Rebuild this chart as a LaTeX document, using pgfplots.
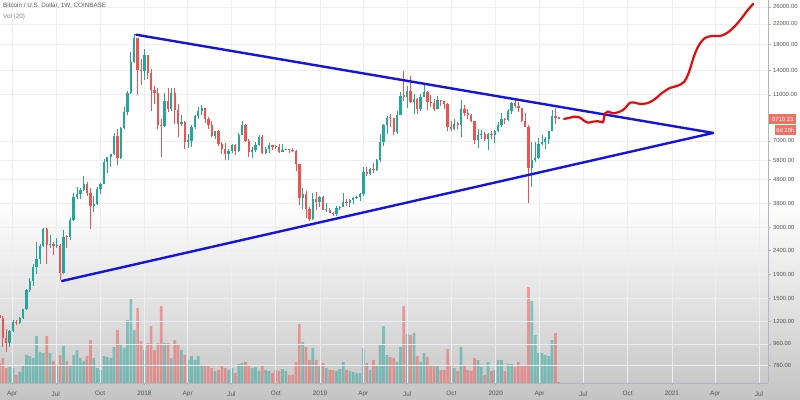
\documentclass[border=0pt]{standalone}
\usepackage{fontspec}
\setmainfont{Liberation Sans}
\usepackage{pgfplots}
\pgfplotsset{compat=1.18}
\usepackage{pgfplotstable}
\definecolor{upc}{RGB}{38,166,154}
\definecolor{dnc}{RGB}{239,83,80}
\definecolor{gridc}{RGB}{236,238,242}
\definecolor{axc}{RGB}{178,181,190}
\definecolor{txtc}{RGB}{85,85,85}
\definecolor{trib}{RGB}{20,20,225}
\definecolor{redline}{RGB}{230,10,10}
\definecolor{boxred}{RGB}{240,112,100}
\definecolor{bgA}{RGB}{196,196,196}
\definecolor{bgB}{RGB}{226,226,226}
\pgfdeclareverticalshading{bgshade}{100bp}{color(0bp)=(bgA); color(25bp)=(bgA); color(37bp)=(bgB); color(50bp)=(white); color(100bp)=(white)}

\pgfplotstableread{
i o h l c v
0 1274 1330 1120 1237 20
1 1237 1260 935 1015 25
2 1015 1110 890 968 15
3 968 1100 930 1090 16
4 1090 1210 1075 1185 15
5 1185 1215 1150 1178 8
6 1178 1245 1165 1238 11
7 1238 1350 1230 1345 18
8 1345 1650 1340 1620 28
9 1620 1830 1600 1770 27
10 1770 2100 1700 2040 25
11 2040 2600 1900 2200 47
12 2200 2550 2100 2500 31
13 2500 2980 2480 2950 30
14 2950 2990 2100 2530 47
15 2530 2780 2450 2560 30
16 2560 2600 2300 2500 22
17 2500 2700 2450 2510 17
18 2510 2540 1800 1925 28
19 1925 2920 1900 2740 37
20 2740 2800 2460 2720 22
21 2720 3300 2650 3220 18
22 3220 4200 3200 4060 28
23 4060 4480 3950 4150 33
24 4150 4400 3970 4350 25
25 4350 4980 4300 4600 22
26 4600 4700 4100 4200 27
27 4200 4400 2970 3700 43
28 3700 4100 3500 3780 25
29 3780 4450 3750 4380 15
30 4380 4650 4150 4600 13
31 4600 5850 4580 5700 27
32 5700 6000 5100 5990 26
33 5990 6180 5450 6140 25
34 6140 7600 6100 7350 36
35 7350 7900 5550 5910 53
36 5910 8000 5850 7970 39
37 7970 9750 7900 9330 35
38 9330 11400 9000 11160 63
39 11160 16800 11100 15210 85
40 15210 19900 15000 19100 53
41 19100 19200 11000 14000 75
42 14000 15600 12100 13880 42
43 13880 17250 12750 16200 33
44 16200 16300 12800 13600 40
45 13600 14100 9400 11500 57
46 11500 12000 10000 11150 33
47 11150 11800 7900 8190 40
48 8190 8700 6000 8100 77
49 8100 11200 8000 10350 40
50 10350 11800 9300 9600 40
51 9600 11700 9350 11200 25
52 11200 11700 8300 9500 43
53 9500 10000 7300 8250 38
54 8250 9000 8100 8450 33
55 8450 8500 6500 6950 28
56 6950 7500 6550 7030 23
57 7030 8200 6600 8000 27
58 8000 9000 7900 8900 23
59 8900 9750 8700 9350 27
60 9350 9990 9050 9650 18
61 9650 9700 8350 8700 17
62 8700 8850 7900 8200 17
63 8200 8500 7250 7350 15
64 7350 7750 7100 7700 12
65 7700 7800 6650 6770 13
66 6770 6900 6150 6450 17
67 6450 6850 5780 6150 15
68 6150 6500 5800 6350 13
69 6350 6800 6250 6750 15
70 6750 6800 6100 6350 10
71 6350 7600 6300 7400 19
72 7400 8500 7400 8200 20
73 8200 8300 6950 7000 21
74 7000 7150 6000 6300 18
75 6300 6600 5900 6400 15
76 6400 6900 6300 6700 16
77 6700 7400 6650 7280 12
78 7280 7400 6150 6250 18
79 6250 6600 6150 6500 13
80 6500 6850 6250 6700 12
81 6700 6750 6400 6620 10
82 6620 6700 6500 6580 13
83 6580 6800 6200 6310 12
84 6310 6800 6300 6420 14
85 6420 6500 6380 6440 12
86 6440 6500 6250 6400 8
87 6400 6550 6300 6350 8
88 6350 6400 5200 5600 21
89 5600 5600 3750 4000 59
90 4000 4400 3600 4150 41
91 4150 4300 3300 3600 36
92 3600 3650 3190 3250 23
93 3250 4200 3230 3950 35
94 3950 4250 3550 3850 23
95 3850 4100 3650 4050 18
96 4050 4100 3550 3550 20
97 3550 3800 3500 3560 15
98 3560 3630 3450 3470 13
99 3470 3500 3370 3420 13
100 3420 3700 3360 3640 12
101 3640 3700 3550 3670 14
102 3670 4200 3650 3850 21
103 3850 3950 3700 3800 13
104 3800 3950 3680 3930 12
105 3930 4060 3780 4000 11
106 4000 4100 3950 4030 10
107 4030 4200 3900 4150 10
108 4150 5400 4100 5150 35
109 5150 5450 4950 5050 20
110 5050 5350 5000 5300 13
111 5300 5650 5100 5250 23
112 5250 5850 5200 5800 17
113 5800 7500 5700 6950 38
114 6950 8300 6650 8200 57
115 8200 8950 7500 8750 28
116 8750 9100 8050 8720 26
117 8720 8800 7450 7650 25
118 7650 9350 7520 8980 21
119 8980 11250 8980 10850 36
120 10850 13880 10350 10800 77
121 10800 12000 9700 11450 49
122 11450 13200 10100 10200 48
123 10200 11100 9100 10550 50
124 10550 10650 9150 9550 27
125 9550 11100 9400 10800 21
126 10800 12300 10800 11350 30
127 11350 11450 9500 10250 26
128 10250 10950 9800 10150 18
129 10150 10600 9350 9600 18
130 9600 10900 9550 10400 18
131 10400 10450 9850 10300 13
132 10300 10350 9600 10000 13
133 10000 10100 7700 8050 34
134 8050 8550 7750 7880 17
135 7880 8650 7800 8300 15
136 8300 8420 7900 8220 12
137 8220 10500 7300 9550 36
138 9550 9950 8900 9200 18
139 9200 9550 8700 9050 13
140 9050 9100 8400 8500 12
141 8500 8500 6800 7050 25
142 7050 7900 6550 7400 23
143 7400 7800 7100 7500 16
144 7500 7650 7000 7100 8
145 7100 7600 6430 7500 21
146 7500 7700 7100 7400 12
147 7400 7800 6850 7750 13
148 7750 8450 7670 8150 23
149 8150 9200 8050 8700 23
150 8700 8750 8250 8600 12
151 8600 9600 8550 9350 19
152 9350 10200 9150 10150 19
153 10150 10500 9700 9900 16
154 9900 10250 9300 9700 21
155 9700 9700 8400 8550 17
156 8550 9200 8000 8050 18
157 8050 8200 3800 5350 96
158 5350 6900 4450 5800 82
159 5800 6900 5700 5900 48
160 5900 7200 5850 6800 30
161 6800 7450 6750 6900 30
162 6900 7300 6500 7130 28
163 7130 7750 6800 7700 27
164 7700 9450 7700 8900 43
165 8900 9700 8250 8750 50
166 8750 8780 8690 8710 1
}\btc

\begin{document}
\begin{tikzpicture}
\shade[shading=bgshade] (0pt,0pt) rectangle (800pt,399pt);
% volume pane
\begin{axis}[at={(0pt,16pt)}, anchor=south west, scale only axis,
  width=768pt, height=383pt, xmin=0.148, xmax=228.1, ymin=0, ymax=383, hide axis]
  \addplot[ybar, bar width=2.7pt, bar shift=0pt, fill=upc, fill opacity=0.5, draw=none,
    restrict expr to domain={\thisrow{c}-\thisrow{o}}{0:1000000}] table[x=i,y=v]{\btc};
  \addplot[ybar, bar width=2.7pt, bar shift=0pt, fill=dnc, fill opacity=0.5, draw=none,
    restrict expr to domain={\thisrow{c}-\thisrow{o}}{-1000000:-0.001}] table[x=i,y=v]{\btc};
\end{axis}
% price pane
\begin{axis}[at={(0pt,16pt)}, anchor=south west, scale only axis,
  width=768pt, height=383pt, xmin=0.148, xmax=228.1,
  ymode=log, ymin=654.6, ymax=27820,
  clip mode=individual,
  axis x line*=bottom, axis y line*=right,
  axis line style={axc, line width=0.6pt},
  grid=major, major grid style={gridc, line width=0.6pt},
  yminorticks=false, yminorgrids=false,
  tick align=outside, major tick length=2.5pt,
  tick style={axc, line width=0.5pt},
  xticklabel style={yshift=-2.5pt, font=\fontsize{6.4}{8}\selectfont, text=txtc},
  yticklabel style={xshift=-1pt, font=\fontsize{5.9}{7}\selectfont, text=txtc},
  xtick={3.71,16.71,29.86,43,55.86,68.86,82,95.14,108,121,134.14,147.29,160.29,173.29,186.43,199.57,212.43,225.43},
  xticklabels={Apr,Jul,Oct,2018,Apr,Jul,Oct,2019,Apr,Jul,Oct,2020,Apr,Jul,Oct,2021,Apr,Jul},
  ytick={780,960,1200,1500,1900,2400,3000,3800,4800,5800,7000,11000,14000,18000,22000,26000},
  yticklabels={780.00,960.00,1200.00,1500.00,1900.00,2400.00,3000.00,3800.00,4800.00,5800.00,7000.00,11000.00,14000.00,18000.00,22000.00,26000.00},
]
  % wicks
  \addplot[draw=none, mark=none, forget plot,
    restrict expr to domain={\thisrow{c}-\thisrow{o}}{0:1000000},
    error bars/.cd, y dir=plus, y explicit, error mark=none,
    error bar style={draw=upc, line width=0.8pt}]
    table[x=i, y=l, y error plus expr={\thisrow{h}-\thisrow{l}}]{\btc};
  \addplot[draw=none, mark=none, forget plot,
    restrict expr to domain={\thisrow{c}-\thisrow{o}}{-1000000:-0.001},
    error bars/.cd, y dir=plus, y explicit, error mark=none,
    error bar style={draw=dnc, line width=0.8pt}]
    table[x=i, y=l, y error plus expr={\thisrow{h}-\thisrow{l}}]{\btc};
  % bodies
  \addplot[draw=none, mark=none, forget plot,
    restrict expr to domain={\thisrow{c}-\thisrow{o}}{0:1000000},
    error bars/.cd, y dir=plus, y explicit, error mark=none,
    error bar style={draw=upc, line width=2.3pt}]
    table[x=i, y expr={min(\thisrow{o},\thisrow{c})},
      y error plus expr={max(abs(\thisrow{c}-\thisrow{o}),0.012*min(\thisrow{o},\thisrow{c}))}]{\btc};
  \addplot[draw=none, mark=none, forget plot,
    restrict expr to domain={\thisrow{c}-\thisrow{o}}{-1000000:-0.001},
    error bars/.cd, y dir=plus, y explicit, error mark=none,
    error bar style={draw=dnc, line width=2.3pt}]
    table[x=i, y expr={min(\thisrow{o},\thisrow{c})},
      y error plus expr={max(abs(\thisrow{c}-\thisrow{o}),0.012*min(\thisrow{o},\thisrow{c}))}]{\btc};
  % triangle
  \addplot[trib, line width=2.4pt, line cap=round] coordinates {(40.6,19800) (211.8,7570)};
  \addplot[trib, line width=2.4pt, line cap=round] coordinates {(18.55,1777) (211.8,7570)};
  % projected path
  \addplot[redline, line width=2.2pt, smooth, tension=0.5, line cap=round] coordinates {
    (167.56,8680) (169.34,8790) (170.82,8880) (172.31,8790) (173.49,8537) (174.68,8372)
    (176.16,8453) (177.65,8487) (179.04,8405) (179.43,8763) (179.73,9178) (180.62,9323)
    (182.10,9178) (183.59,9268) (185.07,9480) (186.26,9858) (187.15,10180) (188.63,10180)
    (190.12,10053) (192.49,10150) (194.57,10556) (196.65,11194) (199.02,11760) (201.1,11993)
    (203.18,12470) (204.66,13750) (206.15,16080) (207.63,17910) (209.41,19190) (211.49,19560)
    (213.86,19560) (215.94,20140) (218.02,21360) (220.10,23110) (221.88,24990) (223.66,26760)};
  % annotations
  \node[anchor=north west, inner sep=0pt, xshift=3pt, yshift=-3pt, text=txtc,
    font=\fontsize{6.3}{7}\selectfont] at (rel axis cs:0,1) {Bitcoin / U.S. Dollar, 1W, COINBASE};
  \node[anchor=north west, inner sep=0pt, xshift=3pt, yshift=-14pt, text=gray,
    font=\fontsize{6.3}{7}\selectfont] at (rel axis cs:0,1) {Vol (20)};
  \node[anchor=north west, fill=boxred, text=white, inner sep=0pt, minimum width=27pt,
    minimum height=10pt, xshift=1pt, font=\fontsize{5.9}{7}\selectfont]
    at (rel axis cs:1,0.7016) {8710.23};
  \node[anchor=north east, fill=boxred, text=white, inner sep=0pt, minimum width=21pt,
    minimum height=10pt, xshift=28pt, font=\fontsize{5.9}{7}\selectfont]
    at (rel axis cs:1,0.6736) {6d 20h};
\end{axis}
\pgfresetboundingbox
\path[use as bounding box] (0pt,0pt) rectangle (800pt,399pt);
\end{tikzpicture}
\end{document}
